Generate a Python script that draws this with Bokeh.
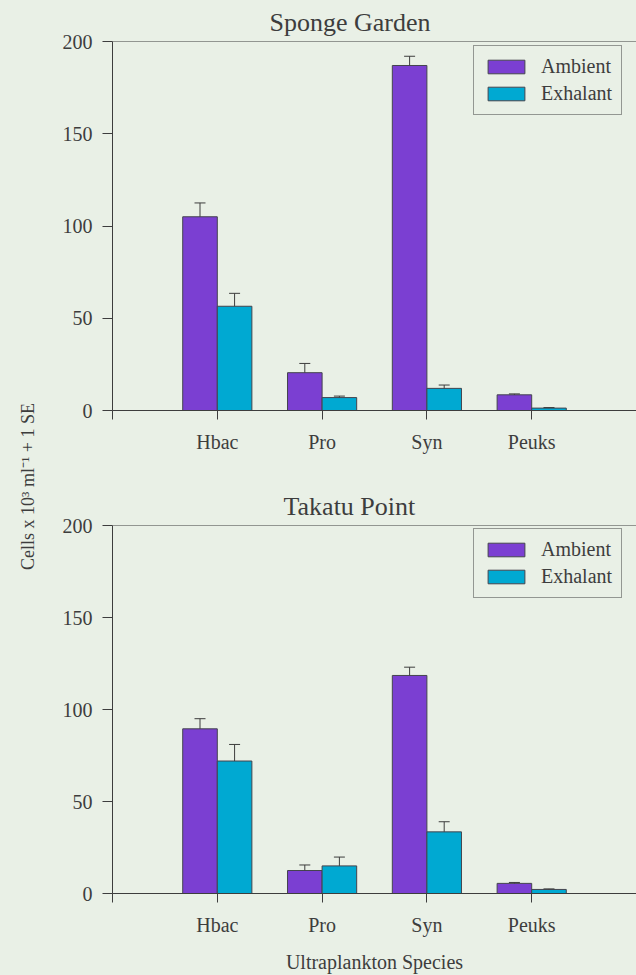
import numpy as np
from bokeh.plotting import figure
from bokeh.models import (ColumnDataSource, Range1d, FixedTicker, Whisker, TeeHead,
                          Legend, LegendItem, Span, Label)
from bokeh.layouts import row, column
from bokeh.embed import file_html
from bokeh.resources import INLINE

# Ultraplankton abundance (cells x 10^3 per ml) with one standard error
species = ["Hbac", "Pro", "Syn", "Peuks"]

sponge_ambient = [105.0, 20.5, 187.0, 8.5]
sponge_ambient_se = [7.5, 5.0, 5.0, 0.5]
sponge_exhalant = [56.5, 7.0, 12.0, 1.3]
sponge_exhalant_se = [7.0, 0.8, 1.8, 0.3]

takatu_ambient = [89.5, 12.5, 118.5, 5.5]
takatu_ambient_se = [5.5, 3.0, 4.5, 0.5]
takatu_exhalant = [72.0, 15.0, 33.5, 2.2]
takatu_exhalant_se = [9.0, 4.8, 5.5, 0.3]

y_ticks = [0, 50, 100, 150, 200]

PAPER = "#e9f0e6"
INK = "#3d3d3d"
PURPLE = "#7b3fd2"
CYAN = "#00a9d2"
FONT = "'Liberation Serif', 'Times New Roman', serif"

BAR_W = 0.33


def panel(title, title_offset, ambient, ambient_se, exhalant, exhalant_se,
          height, top_border, bottom_border, xlabel=None):
    p = figure(width=591, height=height, output_backend="svg", toolbar_location=None,
               x_range=Range1d(0, 5), y_range=Range1d(0, 200),
               min_border_left=67, min_border_right=0,
               min_border_top=top_border, min_border_bottom=bottom_border,
               background_fill_color=PAPER, border_fill_color=PAPER,
               outline_line_color=None, title=title)

    p.title.align = "left"
    p.title.offset = title_offset
    p.title.standoff = 10
    p.title.text_font = FONT
    p.title.text_font_size = "26px"
    p.title.text_font_style = "normal"
    p.title.text_color = INK

    xs = np.arange(1, len(species) + 1)
    src_a = ColumnDataSource(dict(x=xs - BAR_W / 2, top=ambient,
                                  upper=np.add(ambient, ambient_se)))
    src_e = ColumnDataSource(dict(x=xs + BAR_W / 2, top=exhalant,
                                  upper=np.add(exhalant, exhalant_se)))

    r_a = p.vbar(x="x", top="top", bottom=0, width=BAR_W, source=src_a,
                 fill_color=PURPLE, line_color="#44444e", line_width=1)
    r_e = p.vbar(x="x", top="top", bottom=0, width=BAR_W, source=src_e,
                 fill_color=CYAN, line_color="#44444e", line_width=1)

    for src in (src_a, src_e):
        w = Whisker(source=src, base="x", lower="top", upper="upper",
                    dimension="height", line_color=INK, line_width=1,
                    upper_head=TeeHead(size=11, line_color=INK, line_width=1),
                    lower_head=None, level="overlay")
        p.add_layout(w)

    # frame top edge
    p.add_layout(Span(location=200, dimension="width", line_color=INK, line_width=1))

    p.xgrid.visible = False
    p.ygrid.visible = False

    ax = p.xaxis[0]
    ax.ticker = FixedTicker(ticks=[0] + list(xs))
    overrides = {0: ""}
    overrides.update({int(i): s for i, s in zip(xs, species)})
    ax.major_label_overrides = overrides
    ax.major_tick_out = 9
    ax.major_tick_in = 0
    ax.minor_tick_line_color = None
    ax.axis_line_color = INK
    ax.major_tick_line_color = INK
    ax.major_label_text_font = FONT
    ax.major_label_text_font_size = "20px"
    ax.major_label_text_color = INK
    ax.major_label_standoff = 11
    if xlabel:
        ax.axis_label = xlabel
        ax.axis_label_text_font = FONT
        ax.axis_label_text_font_size = "20px"
        ax.axis_label_text_font_style = "normal"
        ax.axis_label_text_color = INK
        ax.axis_label_standoff = 12

    ay = p.yaxis[0]
    ay.ticker = FixedTicker(ticks=y_ticks)
    ay.major_tick_out = 10
    ay.major_tick_in = 0
    ay.minor_tick_line_color = None
    ay.axis_line_color = INK
    ay.major_tick_line_color = INK
    ay.major_label_text_font = FONT
    ay.major_label_text_font_size = "20px"
    ay.major_label_text_color = INK
    ay.major_label_standoff = 10

    legend = Legend(items=[LegendItem(label="Ambient", renderers=[r_a]),
                           LegendItem(label="Exhalant", renderers=[r_e])],
                    location=(361, 295))
    legend.label_text_font = FONT
    legend.label_text_font_size = "20px"
    legend.label_text_color = INK
    legend.glyph_width = 46
    legend.glyph_height = 17
    legend.label_standoff = 12
    legend.padding = 9
    legend.spacing = 4
    legend.margin = 0
    legend.border_line_color = INK
    legend.border_line_width = 1
    legend.background_fill_color = PAPER
    legend.background_fill_alpha = 1
    p.add_layout(legend)
    return p


top = panel("Sponge Garden", 157, sponge_ambient, sponge_ambient_se,
            sponge_exhalant, sponge_exhalant_se,
            height=460, top_border=41, bottom_border=50)
bottom = panel("Takatu Point", 171, takatu_ambient, takatu_ambient_se,
               takatu_exhalant, takatu_exhalant_se,
               height=515, top_border=65, bottom_border=81,
               xlabel="Ultraplankton Species")

# shared y-axis title spanning both panels
side = figure(width=45, height=975, output_backend="svg", toolbar_location=None,
              x_range=Range1d(0, 45), y_range=Range1d(0, 975),
              x_axis_type=None, y_axis_type=None, min_border=0,
              background_fill_color=PAPER, border_fill_color=PAPER,
              outline_line_color=None)
side.grid.visible = False
side.add_layout(Label(x=27, y=975 - 486, text="Cells x 10\u00b3 ml\u207b\u00b9 + 1 SE",
                      angle=np.pi / 2, text_align="center", text_baseline="middle",
                      text_font=FONT, text_font_size="18px", text_color=INK))

stack = column(top, bottom, spacing=0, styles={"background-color": PAPER})
layout = row(side, stack, spacing=0, styles={"background-color": PAPER})

open("out.html", "w").write(file_html(layout, INLINE))
